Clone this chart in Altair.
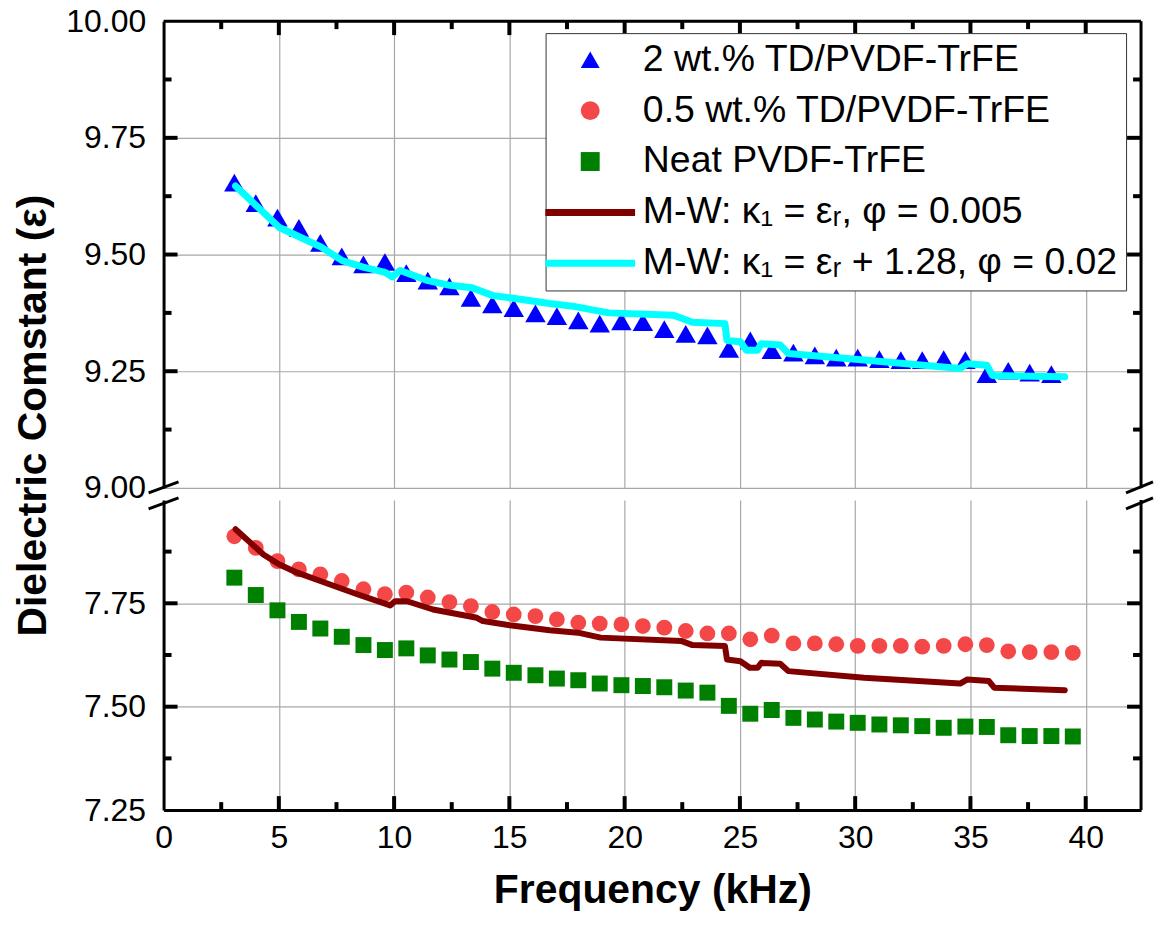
import altair as alt
import pandas as pd

# ---------------- data ----------------
FREQ = [3.07, 4.00, 4.94, 5.87, 6.80, 7.73, 8.67, 9.60, 10.53, 11.46,
        12.40, 13.33, 14.26, 15.19, 16.13, 17.06, 17.99, 18.92, 19.86, 20.79,
        21.72, 22.65, 23.59, 24.52, 25.45, 26.38, 27.32, 28.25, 29.18, 30.11,
        31.05, 31.98, 32.91, 33.84, 34.78, 35.71, 36.64, 37.57, 38.51, 39.44]

TRI = [9.654, 9.610, 9.579, 9.557, 9.525, 9.496, 9.479, 9.484, 9.460, 9.444,
       9.432, 9.407, 9.393, 9.385, 9.374, 9.368, 9.359, 9.352, 9.357, 9.355,
       9.340, 9.330, 9.327, 9.298, 9.316, 9.295, 9.290, 9.284, 9.279, 9.279,
       9.276, 9.274, 9.274, 9.276, 9.274, 9.244, 9.251, 9.247, 9.244]

CIRC = [7.912, 7.884, 7.852, 7.832, 7.820, 7.804, 7.784, 7.772, 7.776, 7.764,
        7.753, 7.743, 7.729, 7.723, 7.719, 7.711, 7.703, 7.701, 7.699, 7.695,
        7.691, 7.683, 7.677, 7.677, 7.663, 7.672, 7.653, 7.653, 7.651, 7.647,
        7.647, 7.647, 7.645, 7.647, 7.651, 7.649, 7.634, 7.632, 7.632, 7.630]

SQ = [7.812, 7.770, 7.733, 7.705, 7.689, 7.669, 7.649, 7.637, 7.641, 7.624,
      7.614, 7.608, 7.592, 7.582, 7.576, 7.568, 7.564, 7.556, 7.552, 7.550,
      7.547, 7.539, 7.534, 7.502, 7.483, 7.492, 7.473, 7.469, 7.464, 7.461,
      7.457, 7.455, 7.453, 7.449, 7.452, 7.451, 7.431, 7.429, 7.429, 7.428]

CYAN_F = [3.12, 5.02, 5.93, 6.84, 7.75, 8.66, 9.61, 9.91, 10.26, 11.47,
          12.42, 13.38, 14.29, 15.24, 16.75, 17.79, 19.31, 22.12, 22.94, 24.35,
          24.44, 25.02, 25.28, 25.76, 25.93, 26.75, 27.10, 30.39, 34.55, 34.87,
          35.71, 35.95, 39.09]
CYAN_V = [9.647, 9.558, 9.537, 9.516, 9.487, 9.473, 9.462, 9.452, 9.466, 9.444,
          9.434, 9.429, 9.412, 9.406, 9.395, 9.389, 9.375, 9.370, 9.355, 9.352,
          9.316, 9.313, 9.295, 9.295, 9.309, 9.306, 9.288, 9.274, 9.256, 9.266,
          9.263, 9.241, 9.238]

MAROON_F = [3.12, 4.33, 5.02, 5.80, 6.80, 8.40, 9.83, 10.04, 10.56, 11.69,
            13.59, 13.85, 15.02, 16.75, 17.97, 18.96, 22.45, 22.94, 24.35, 24.44,
            25.02, 25.43, 25.76, 25.93, 26.75, 27.10, 30.39, 34.55, 34.87, 35.80,
            36.03, 39.09]
MAROON_V = [7.929, 7.868, 7.844, 7.824, 7.804, 7.772, 7.745, 7.755, 7.755, 7.735,
            7.715, 7.707, 7.697, 7.685, 7.679, 7.667, 7.659, 7.649, 7.647, 7.614,
            7.610, 7.594, 7.594, 7.606, 7.604, 7.586, 7.570, 7.556, 7.566, 7.562,
            7.546, 7.540]

LABELS = ["2 wt.% TD/PVDF-TrFE", "0.5 wt.% TD/PVDF-TrFE", "Neat PVDF-TrFE",
          "M-W: κ₁ = εᵣ, φ = 0.005", "M-W: κ₁ = εᵣ + 1.28, φ = 0.02"]
COLORS = ["#0000FF", "#F44848", "#008000", "#800000", "#00FFFF"]
LINE_PATH = "M-4.74,-0.37L4.74,-0.37L4.74,0.37L-4.74,0.37Z"
SHAPES = ["triangle-up", "circle", "square", LINE_PATH, LINE_PATH]

X_LABELS = [0, 5, 10, 15, 20, 25, 30, 35, 40]
X_MAJOR = [5, 10, 15, 20, 25, 30, 35, 40]
X_MINOR = [2.5, 7.5, 12.5, 17.5, 22.5, 27.5, 32.5, 37.5]
Y_UP_LABELS = [9.0, 9.25, 9.5, 9.75, 10.0]
Y_UP_MAJOR = [9.25, 9.5, 9.75]
Y_UP_MINOR = [9.125, 9.375, 9.625, 9.875]
Y_LO_LABELS = [7.25, 7.5, 7.75]
Y_LO_MAJOR = [7.5, 7.75]
Y_LO_MINOR = [7.375, 7.625, 7.875]

# ---------------- styling ----------------
FONT = "Liberation Sans"
W, H1, H2 = 980, 468, 311
GRID = "#A8A8A8"
MAJ, MIN = 14, 8
TK = 4

xs = alt.Scale(domain=[0, 42.4], nice=False, zero=False)
ys_up = alt.Scale(domain=[9.0, 10.0], nice=False, zero=False)
ys_lo = alt.Scale(domain=[7.25, 8.0], nice=False, zero=False)
cs = alt.Scale(domain=LABELS, range=COLORS)
ss = alt.Scale(domain=LABELS, range=SHAPES)

x_axis_up = alt.Axis(title=None, labels=False, ticks=False, domain=False, grid=True,
                     values=X_MAJOR, gridColor=GRID, gridWidth=1.2)
x_axis_lo = alt.Axis(title="Frequency (kHz)", values=X_LABELS, format="d", ticks=False,
                     domain=True, domainColor="black", domainWidth=3, grid=True,
                     gridColor=GRID, gridWidth=1.2, labelFont=FONT, labelFontSize=32,
                     labelColor="black", labelPadding=13, labelFlush=False, labelOverlap=False,
                     titleFont=FONT, titleFontSize=41, titleFontWeight="bold",
                     titleColor="black", titlePadding=17)
y_axis_up = alt.Axis(title="Dielectric Comstant (ε)", values=Y_UP_LABELS, format=".2f",
                     ticks=False, domain=True, domainColor="black", domainWidth=3,
                     grid=True, gridColor=GRID, gridWidth=1.2, labelFont=FONT,
                     labelFontSize=32, labelColor="black", labelPadding=18,
                     labelOverlap=False, titleFont=FONT, titleFontSize=41,
                     titleFontWeight="bold", titleColor="black", titleAngle=270,
                     titleX=-118, titleY=395, titleAlign="center",
                     titleBaseline="alphabetic")
y_axis_lo = alt.Axis(title=None, values=Y_LO_LABELS, format=".2f", ticks=False,
                     domain=True, domainColor="black", domainWidth=3, grid=True,
                     gridColor=GRID, gridWidth=1.2, labelFont=FONT, labelFontSize=32,
                     labelColor="black", labelPadding=18, labelOverlap=False)

leg = alt.Legend(title=None, orient="none", legendX=383, legendY=12, direction="vertical",
                 labelFont=FONT, labelFontSize=37.5, labelColor="black", labelLimit=800,
                 symbolSize=360, symbolOffset=18, labelOffset=34, rowPadding=12,
                 padding=8, strokeColor="#333333", fillColor="white",
                 symbolStrokeWidth=0, symbolOpacity=1)

X = lambda ax: alt.X("f:Q", scale=xs, axis=ax)


def points(df, size, ys, yax, xax, legend):
    return alt.Chart(df).mark_point(filled=True, size=size, opacity=1).encode(
        x=X(xax), y=alt.Y("v:Q", scale=ys, axis=yax),
        color=alt.Color("s:N", scale=cs, legend=legend),
        shape=alt.Shape("s:N", scale=ss, legend=legend))


def line(df, width, ys, yax, xax):
    return alt.Chart(df).mark_line(strokeWidth=width, strokeJoin="round",
                                   strokeCap="round").encode(
        x=X(xax), y=alt.Y("v:Q", scale=ys, axis=yax),
        color=alt.Color("s:N", scale=cs, legend=None))


def side_ticks(vals, length, ys, yax):
    df = pd.DataFrame({"v": vals})
    base = alt.Chart(df).mark_tick(orient="horizontal", size=length, thickness=TK,
                                   color="black", opacity=1)
    left = base.encode(y=alt.Y("v:Q", scale=ys, axis=yax), x=alt.value(length / 2))
    right = base.encode(y=alt.Y("v:Q", scale=ys, axis=yax), x=alt.value(W - length / 2))
    return [left, right]


def x_ticks(vals, length, xax, top, h):
    df = pd.DataFrame({"f": vals})
    base = alt.Chart(df).mark_tick(orient="vertical", size=length, thickness=TK,
                                   color="black", opacity=1)
    if top:
        return base.encode(x=X(xax), y=alt.value(length / 2))
    return base.encode(x=X(xax), y=alt.value(h - length / 2))


one = pd.DataFrame({"k": [0]})


def seg(x1, y1, x2, y2, w=3):
    return alt.Chart(one).mark_rule(color="black", strokeWidth=w).encode(
        x=alt.value(x1), y=alt.value(y1), x2=alt.value(x2), y2=alt.value(y2))


def vseg(x, y1, y2):
    return alt.Chart(one).mark_rule(color="black", strokeWidth=3).encode(
        x=alt.value(x), y=alt.value(y1), y2=alt.value(y2))


def hseg(y, x1, x2):
    return alt.Chart(one).mark_rule(color="black", strokeWidth=3).encode(
        y=alt.value(y), x=alt.value(x1), x2=alt.value(x2))


# ---------------- upper panel ----------------
tri_df = pd.DataFrame({"f": FREQ[:len(TRI)], "v": TRI, "s": LABELS[0]})
cyan_df = pd.DataFrame({"f": CYAN_F, "v": CYAN_V, "s": LABELS[4]})

upper_layers = [
    points(tri_df, 420, ys_up, y_axis_up, x_axis_up, leg),
    line(cyan_df, 7, ys_up, y_axis_up, x_axis_up),
    *side_ticks(Y_UP_MAJOR, MAJ, ys_up, y_axis_up),
    *side_ticks(Y_UP_MINOR, MIN, ys_up, y_axis_up),
    x_ticks(X_MAJOR, MAJ, x_axis_up, True, H1),
    x_ticks(X_MINOR, MIN, x_axis_up, True, H1),
    hseg(0, 0, W),
    vseg(W, 0, H1),
    seg(-15, H1 + 5, 15, H1 - 6),
    seg(W - 15, H1 + 5, W + 12, H1 - 6),
]
upper = alt.layer(*upper_layers).properties(width=W, height=H1)

# ---------------- lower panel ----------------
circ_df = pd.DataFrame({"f": FREQ[:len(CIRC)], "v": CIRC, "s": LABELS[1]})
sq_df = pd.DataFrame({"f": FREQ[:len(SQ)], "v": SQ, "s": LABELS[2]})
mar_df = pd.DataFrame({"f": MAROON_F, "v": MAROON_V, "s": LABELS[3]})

lower_layers = [
    points(circ_df, 250, ys_lo, y_axis_lo, x_axis_lo, None),
    points(sq_df, 256, ys_lo, y_axis_lo, x_axis_lo, None),
    line(mar_df, 6, ys_lo, y_axis_lo, x_axis_lo),
    *side_ticks(Y_LO_MAJOR, MAJ, ys_lo, y_axis_lo),
    *side_ticks(Y_LO_MINOR, MIN, ys_lo, y_axis_lo),
    x_ticks(X_MAJOR, MAJ, x_axis_lo, False, H2),
    x_ticks(X_MINOR, MIN, x_axis_lo, False, H2),
    vseg(W, 0, H2),
    seg(-15, 9, 15, -2),
    seg(W - 15, 9, W + 12, -2),
]
lower = alt.layer(*lower_layers).properties(width=W, height=H2)

chart = (
    alt.vconcat(upper, lower, spacing=12, bounds="flush")
    .resolve_scale(x="independent", y="independent", color="independent", shape="independent")
    .resolve_legend(color="independent", shape="independent")
    .configure_view(stroke=None)
    .properties(padding={"left": 13, "top": 4, "right": 0, "bottom": 10}, background="white")
)

chart.save("out.html", embed_options={"renderer": "svg", "actions": False})
